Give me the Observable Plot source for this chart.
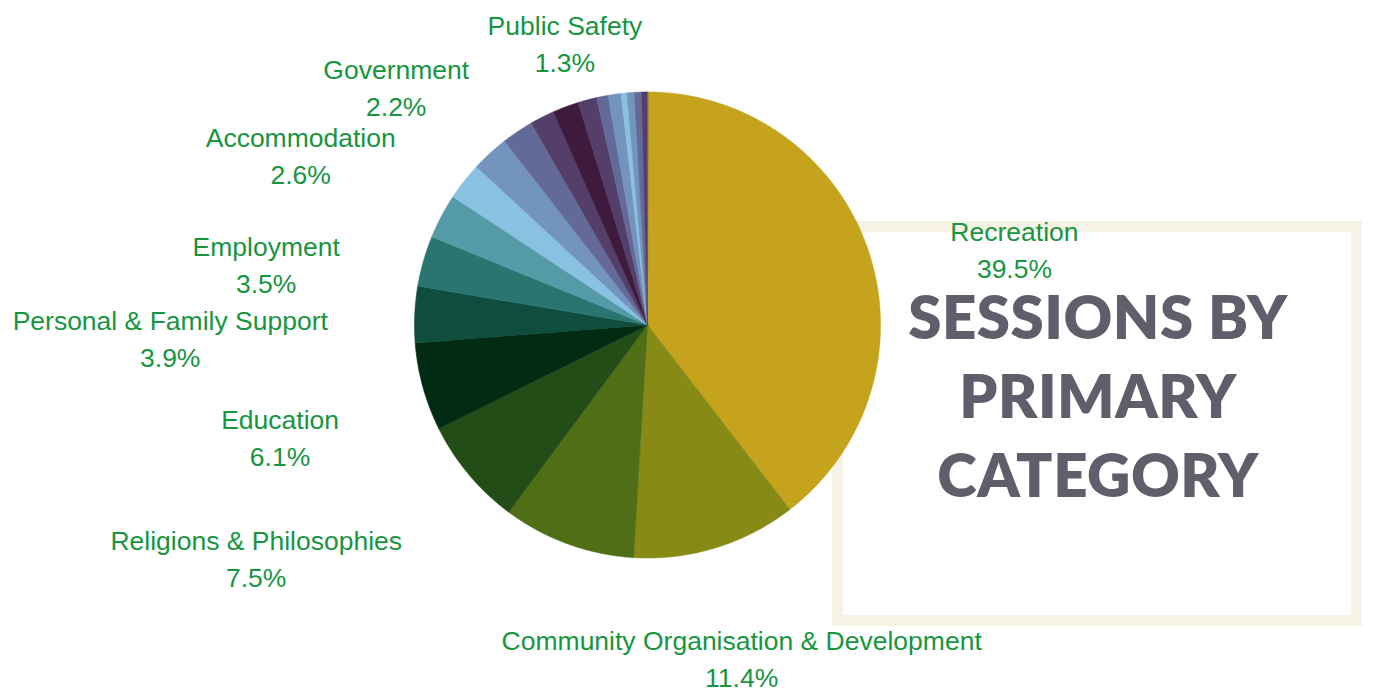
<!DOCTYPE html>
<html>
<head>
<meta charset="utf-8">
<script src="https://cdn.jsdelivr.net/npm/d3@7"></script>
<script src="https://cdn.jsdelivr.net/npm/@observablehq/plot@0.6"></script>
<style>
  html, body { margin: 0; padding: 0; background: #ffffff; }
  #wrap { position: relative; width: 1374px; height: 693px; overflow: hidden; }
  #frame { position: absolute; left: 832px; top: 221px; width: 508px; height: 383px;
           border: 11px solid #F6F2E6; }
  #chart { position: absolute; left: 0; top: 0; }
  #title { position: absolute; left: 838px; top: 277px; width: 520px; text-align: center;
           font-family: Lato, sans-serif; font-weight: 800; font-size: 60px; line-height: 79px;
           letter-spacing: 0.5px; color: #5E5F6B; }
</style>
</head>
<body>
<div id="wrap">
  <div id="frame"></div>
  <div id="chart"></div>
  <div id="title">SESSIONS BY<br>PRIMARY<br>CATEGORY</div>
</div>
<script>
// ---- data ----
const categories = [
  "Recreation", "Community Organisation & Development", "", "Religions & Philosophies",
  "Education", "Personal & Family Support", "Employment", "", "Accommodation", "",
  "Government", "", "", "Public Safety", "", "", "", "", "", ""
];
const shares = [39.5, 11.4, 9.2, 7.5, 6.1, 3.9, 3.5, 3.1, 2.6, 2.6, 2.2, 1.7, 1.8, 1.3, 0.8, 0.9, 0.4, 0.5, 0.5, 0.4];
const colors = [
  "#C5A31D", "#878A15", "#506E15", "#234D17", "#012B13", "#0F4D3D", "#2A7570", "#559AA7",
  "#89C1E0", "#7394BD", "#646A97", "#533F69", "#3E1A3D", "#533F69", "#646A97", "#7394BD",
  "#89C1E0", "#7394BD", "#646A97", "#533F69"
];

// ---- layout ----
const W = 1374, H = 693;
const CX = 647, CY = 324.5, RPX = 233;      // pie centre & radius in pixels
const LABEL_R = 320 / RPX;                    // label anchor radius (data units)
const FONT_SIZE = 26.5, FONT = "Liberation Sans";

const rows = categories.map((name, i) => ({i, name, value: shares[i]}));
const arcs = d3.pie().sort(null).value(d => d.value)(rows);

// slice polygons in unit-circle coordinates (y up)
const pts = [];
for (const s of arcs) {
  const k = s.data.i;
  pts.push({k, x: 0, y: 0});
  const n = Math.max(2, Math.ceil((s.endAngle - s.startAngle) / (Math.PI / 720)));
  for (let j = 0; j <= n; ++j) {
    const a = s.startAngle + (s.endAngle - s.startAngle) * j / n;
    pts.push({k, x: Math.sin(a), y: Math.cos(a)});
  }
}

// labels
const ctx = document.createElement("canvas").getContext("2d");
ctx.font = `${FONT_SIZE}px '${FONT}'`;
const labels = arcs.filter(s => s.data.name).map(s => {
  const a = (s.startAngle + s.endAngle) / 2;
  const sx = Math.sin(a), cy = Math.cos(a);
  const pct = `${s.data.value.toFixed(1)}%`;
  const w = Math.max(ctx.measureText(s.data.name).width, ctx.measureText(pct).width);
  let x = LABEL_R * sx;
  if (sx < -0.45) x -= (w / 2) / RPX;
  else if (sx > 0.45) x += (w / 2) / RPX;
  return {x, y: LABEL_R * cy, text: `${s.data.name}\n${pct}`};
});

const chart = Plot.plot({
  width: W, height: H,
  margin: 0,
  style: {background: "transparent", overflow: "visible"},
  x: {axis: null, domain: [-CX / RPX, (W - CX) / RPX]},
  y: {axis: null, domain: [-(H - CY) / RPX, CY / RPX]},
  color: {type: "ordinal", domain: d3.range(colors.length), range: colors},
  marks: [
    Plot.line(pts, {x: "x", y: "y", z: "k", fill: "k", stroke: "k", strokeWidth: 0.6, curve: "linear-closed"}),
    Plot.text(labels, {
      x: "x", y: "y", text: "text", dy: -7,
      lineAnchor: "top", textAnchor: "middle", lineHeight: 1.396,
      fontSize: FONT_SIZE, fontFamily: FONT, fill: "#17953F"
    })
  ]
});
document.getElementById("chart").appendChild(chart);
</script>
</body>
</html>
